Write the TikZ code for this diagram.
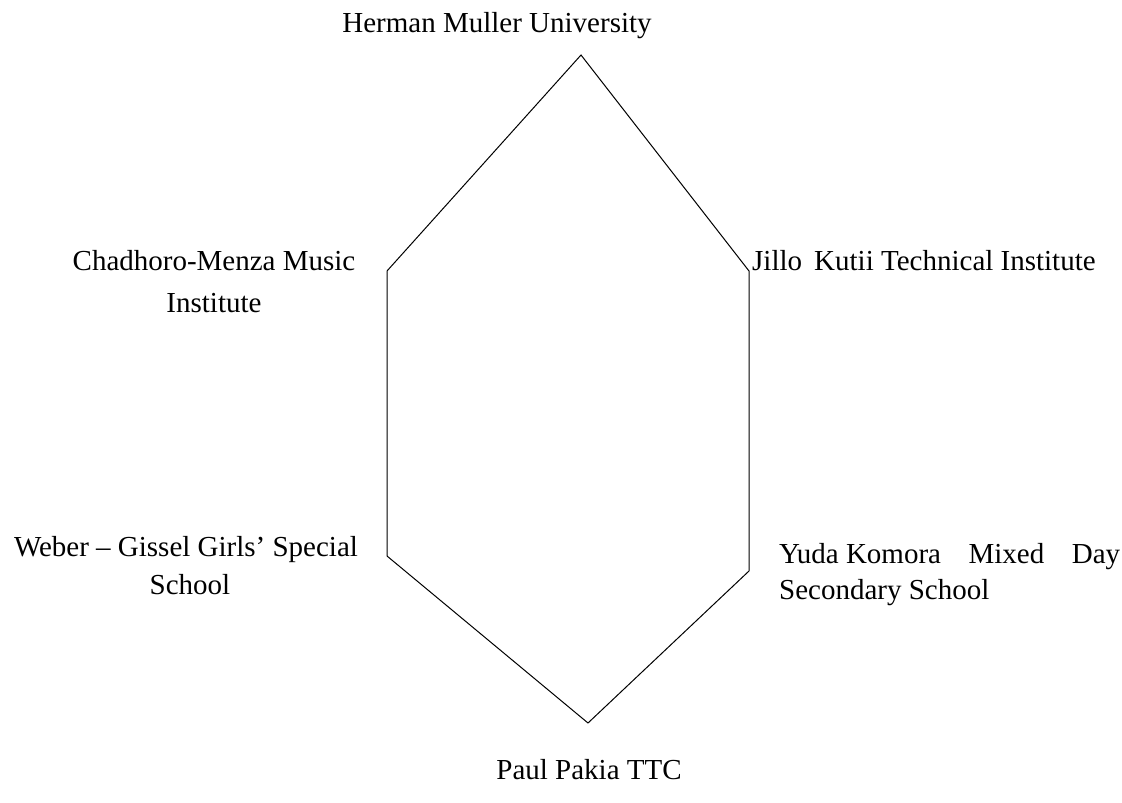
\documentclass[tikz,border=0pt]{standalone}
\usepackage{fontspec}
\setmainfont{Liberation Serif}
\begin{document}
\begin{tikzpicture}[x=1pt,y=-1pt,
  lbl/.style={inner sep=0pt,font=\fontsize{29}{29}\selectfont},
  edge/.style={draw=black,line width=1pt,line join=miter}]
\useasboundingbox (0,0) rectangle (1122,803);
\coordinate (t) at (581,55);
\coordinate (ur) at (749,271);
\coordinate (lr) at (749,571);
\coordinate (b) at (588,723);
\coordinate (ll) at (387,556);
\coordinate (ul) at (387,271);
\draw[edge] (t) -- (ur) -- (lr) -- (b) -- (ll) -- (ul) -- cycle;
\node[lbl,anchor=base] (n1) at (497,32) {Herman Muller University};
\node[lbl,anchor=base] (n2) at (214,270) {Chadhoro-Menza Music};
\node[lbl,anchor=base] (n2b) at (214,312) {Institute};
\node[lbl,anchor=base west] (n3) at (752,270) {Jillo\, Kutii Technical Institute};
\node[lbl,anchor=base] (n4) at (186,556) {Weber -- Gissel Girls' Special};
\node[lbl,anchor=base] (n4b) at (190,594) {School};
\node[lbl,anchor=base west] (n5) at (779,563) {\hbox to 341pt{Yuda Komora\hfill Mixed\hfill Day}};
\node[lbl,anchor=base west] (n5b) at (779,599) {Secondary School};
\node[lbl,anchor=base] (n6) at (589,779) {Paul Pakia TTC};
\end{tikzpicture}
\end{document}
